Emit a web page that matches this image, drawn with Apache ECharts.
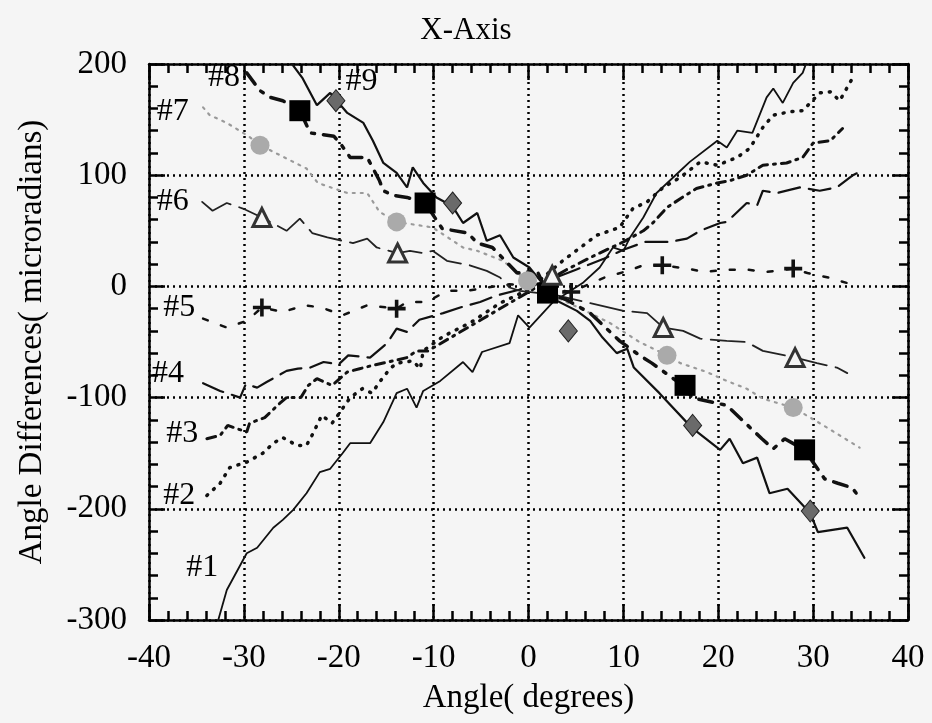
<!DOCTYPE html>
<html>
<head>
<meta charset="utf-8">
<title>X-Axis</title>
<script src="https://cdn.jsdelivr.net/npm/echarts@6/dist/echarts.min.js"></script>
<style>
  html, body { margin: 0; padding: 0; background: #f5f5f5; }
  #chart { width: 932px; height: 723px; }
</style>
</head>
<body>
<div id="chart"></div>
<script>
// traced curves, angle (deg) vs difference (microradians)
const line1X = [-32.7, -31.8, -29.7, -28.6, -26.9, -25.9, -24.8, -23.4, -22.0, -20.9, -19.6, -18.8, -16.7, -15.3, -13.9, -12.8, -11.8, -11.1, -9.3, -6.9, -5.9, -4.9, -2.0, -1.1, 0.1, 2.6, 5.7, 7.5, 8.9, 10.0, 10.7, 12.1, 13.5, 16.0, 17.0, 19.9, 20.9, 22.0, 23.6, 25.1, 25.8, 26.8, 27.9, 28.9, 29.5]
const line1Y = [-300, -273, -240, -235, -217, -210, -201, -186, -167, -164, -150, -141, -141, -122, -96, -92, -109, -94, -85, -68, -77, -59, -51, -26, -37, -14, 3, 17, 35, 32, 44, 62, 84, 104, 112, 131, 125, 140, 138, 170, 178, 165, 183, 192, 206]

const line2X = [-33.9, -32.5, -31.5, -29.7, -28.0, -26.9, -25.9, -24.4, -23.4, -22.7, -21.8, -20.7, -20.1, -18.8, -17.5, -16.5, -15.7, -14.6, -13.9, -12.2, -11.4, -11.1, -9.0, -6.0, -3.0, 0.0, 3.6, 7.2, 9.6, 11.0, 12.5, 14.2, 16.0, 18.1, 19.9, 22.0, 23.3, 24.7, 25.8, 27.5, 28.9, 30.7, 31.8, 32.8, 34.2]
const line2Y = [-188, -177, -163, -158, -150, -141, -136, -143, -143, -132, -116, -123, -116, -100, -92, -96, -86, -74, -69, -67, -74, -58, -45, -32, -15, -3, 23, 46, 53, 70, 76, 89, 98, 112, 109, 116, 124, 143, 154, 157, 158, 174, 175, 167, 188]

const line3X = [-33.9, -32.5, -31.7, -29.7, -29.4, -27.8, -26.2, -25.5, -24.0, -23.2, -22.3, -20.7, -19.1, -17.8, -16.4, -14.3, -12.8, -11.8, -10.6, -8.0, -5.0, -2.0, 1.0, 4.0, 7.0, 10.0, 12.1, 13.1, 14.6, 16.2, 17.7, 19.9, 21.2, 23.0, 24.7, 27.2, 28.9, 30.0, 31.8, 33.1]
const line3Y = [-137, -134, -125, -131, -123, -118, -105, -100, -100, -89, -83, -89, -77, -74, -71, -67, -64, -58, -58, -45, -30, -15, 0, 15, 28, 40, 50, 57, 71, 80, 88, 93, 95, 100, 109, 111, 116, 129, 131, 142]

const line4X = [-34.3, -32.5, -30.4, -29.8, -28.6, -27.6, -25.5, -24.3, -23.0, -21.6, -20.0, -19.0, -16.7, -14.9, -13.9, -12.8, -11.5, -9.0, -7.2, -5.1, -3.3, -1.0, 2.0, 5.0, 8.0, 10.0, 12.3, 14.9, 16.7, 18.1, 20.2, 20.9, 23.0, 24.1, 24.7, 26.2, 28.6, 30.7, 32.5, 34.2, 34.9]
const line4Y = [-87, -94, -100, -88, -91, -86, -76, -74, -73, -68, -70, -62, -64, -51, -38, -41, -30, -24, -19, -14, -8, -3, 5, 15, 25, 33, 40, 40, 43, 50, 57, 58, 75, 73, 86, 84, 89, 86, 89, 100, 103]

const line5X = [-34.3, -31.8, -29.7, -28.1, -25.9, -23.6, -21.8, -19.6, -17.0, -13.9, -12.8, -10.7, -8.6, -6.5, -4.4, -2.0, 0.5, 4.5, 8.0, 10.5, 12.1, 14.1, 16.7, 18.6, 20.9, 23.1, 25.1, 27.9, 29.4, 31.6, 33.6, 34.6]
const line5Y = [-29, -37, -31, -19, -23, -17, -19, -26, -17, -20, -14, -14, -4, -4, -1, 2, 0, -5, 8, 14, 19, 19, 16, 13, 15, 15, 13, 16, 12, 8, 3, 7]

const line6X = [-34.4, -33.3, -31.8, -30.1, -28.1, -25.5, -24.1, -22.8, -21.2, -19.6, -18.5, -17.0, -16.0, -13.8, -12.5, -11.1, -10.1, -8.6, -6.2, -4.4, -3.0, -2.0, -0.9, 3.0, 6.0, 10.0, 12.5, 14.2, 16.3, 18.1, 20.9, 23.0, 24.7, 28.1, 30.4, 32.5, 33.6]
const line6Y = [76, 68, 75, 70, 62, 50, 61, 48, 44, 41, 39, 43, 35, 30, 32, 30, 32, 23, 19, 14, 8, -1, -4, -8, -14, -22, -24, -37, -40, -47, -49, -50, -58, -64, -69, -73, -78]

const line7X = [-34.3, -33.6, -31.8, -29.5, -28.3, -25.5, -23.4, -22.2, -19.1, -17.0, -15.7, -13.9, -10.1, -6.9, -5.4, -2.7, -0.1, 3.0, 6.0, 8.6, 11.7, 14.6, 16.0, 18.8, 20.9, 23.0, 24.7, 27.9, 30.7, 32.8, 34.9]
const line7Y = [161, 154, 147, 135, 127, 115, 106, 93, 84, 84, 67, 58, 53, 35, 32, 23, 5, -10, -22, -33, -50, -62, -69, -77, -85, -92, -101, -109, -123, -134, -145]

const line8X = [-29.7, -28.3, -27.2, -25.9, -24.1, -23.0, -20.5, -19.7, -18.8, -17.0, -15.7, -15.3, -14.3, -12.8, -10.9, -9.1, -6.4, -5.4, -3.8, -1.2, 0.9, 2.0, 4.0, 6.5, 9.6, 11.7, 13.0, 15.6, 16.5, 17.2, 20.9, 22.5, 24.6, 25.8, 27.0, 29.1, 31.2, 32.6, 34.1, 34.9]
const line8Y = [192, 176, 170, 167, 158, 138, 135, 127, 116, 116, 95, 86, 82, 80, 75, 52, 48, 39, 35, 12, 14, -6, -12, -24, -49, -62, -69, -85, -89, -100, -107, -120, -137, -146, -137, -147, -173, -177, -181, -190]

const line9X = [-25.1, -23.8, -22.3, -20.9, -19.1, -17.4, -16.4, -15.3, -13.9, -12.8, -12.2, -11.1, -9.7, -8.0, -6.9, -5.4, -4.4, -3.0, -1.6, 0.1, 3.0, 5.1, 6.5, 7.8, 9.3, 10.4, 11.1, 13.8, 17.2, 20.2, 21.2, 22.6, 24.1, 25.4, 27.3, 29.7, 30.5, 33.6, 35.4]
const line9Y = [202, 187, 163, 174, 156, 147, 131, 111, 102, 89, 107, 93, 80, 72, 57, 66, 41, 46, 26, 17, -13, -22, -31, -46, -60, -56, -73, -96, -127, -147, -137, -159, -154, -186, -182, -204, -221, -217, -244]

// symbols drawn along some curves
const squareX = [-24.1, -10.9, 2.0, 16.5, 29.1]
const squareY = [158, 75, -6, -89, -147]
const diamondX = [-20.3, -8.0, 4.2, 17.3, 29.7]
const diamondY = [167, 75, -40, -125, -202]
const circleX = [-28.3, -13.9, -0.1, 14.6, 27.9]
const circleY = [127, 58, 5, -62, -109]
const triangleX = [-28.1, -13.8, 2.5, 14.2, 28.1]
const triangleY = [62, 30, 10, -37, -64]
const crossX = [-28.1, -13.9, 4.5, 14.1, 27.9]
const crossY = [-19, -20, -5, 19, 16]

// curve tags
const tagNames = ['#1', '#2', '#3', '#4', '#5', '#6', '#7', '#8', '#9']
const tagX = [-34.4, -36.8, -36.5, -38.0, -36.8, -37.5, -37.5, -32.1, -17.6]
const tagY = [-253, -188, -132, -78, -19, 76, 157, 188, 184]

const xTicks = [-40, -30, -20, -10, 0, 10, 20, 30, 40]
const yTicks = [-300, -200, -100, 0, 100, 200]

const FONT = '"Liberation Serif", "DejaVu Serif", serif'
const pairs = (xs, ys) => xs.map((v, i) => [v, ys[i]])

const lineStyles = [
  { x: line1X, y: line1Y, type: 'solid', width: 1.8, color: '#111' },
  { x: line2X, y: line2Y, type: [1, 8], width: 3.5, color: '#111' },
  { x: line3X, y: line3Y, type: [9, 6, 2, 6], width: 3, color: '#111' },
  { x: line4X, y: line4Y, type: [22, 9], width: 2.2, color: '#111' },
  { x: line5X, y: line5Y, type: [5, 14], width: 2.5, color: '#111' },
  { x: line6X, y: line6Y, type: [34, 9], width: 1.8, color: '#222' },
  { x: line7X, y: line7Y, type: [2, 6], width: 2.2, color: '#9a9a9a' },
  { x: line8X, y: line8Y, type: [14, 9, 3, 9], width: 3.5, color: '#111' },
  { x: line9X, y: line9Y, type: 'solid', width: 2.2, color: '#111' }
]

const series = lineStyles.map((s, i) => ({
  name: tagNames[i],
  type: 'line',
  data: pairs(s.x, s.y),
  showSymbol: false,
  symbol: 'none',
  clip: true,
  z: 3,
  lineStyle: { type: s.type, width: s.width, color: s.color, cap: 'round' }
}))

const markers = [
  { x: squareX, y: squareY, symbol: 'rect', size: 21, item: { color: '#000' } },
  { x: diamondX, y: diamondY, symbol: 'diamond', size: [18, 22], item: { color: '#6a6a6a', borderColor: '#222', borderWidth: 1 } },
  { x: circleX, y: circleY, symbol: 'circle', size: 19, item: { color: '#aaa' } },
  { x: triangleX, y: triangleY, symbol: 'triangle', size: 18, item: { color: '#f5f5f5', borderColor: '#333', borderWidth: 3 } },
  { x: crossX, y: crossY, symbol: 'path://M4,0H6V4H10V6H6V10H4V6H0V4H4Z', size: 18, item: { color: '#111' } }
]
markers.forEach(m => {
  series.push({
    type: 'scatter',
    data: pairs(m.x, m.y),
    symbol: m.symbol,
    symbolSize: m.size,
    itemStyle: Object.assign({ opacity: 1 }, m.item),
    z: 4,
    silent: true
  })
})

series.push({
  type: 'scatter',
  data: tagX.map((v, i) => ({ value: [v, tagY[i]], name: tagNames[i] })),
  symbolSize: 0,
  itemStyle: { opacity: 1 },
  z: 5,
  clip: false,
  silent: true,
  label: {
    show: true,
    position: 'inside',
    formatter: p => p.name,
    color: '#000',
    fontFamily: FONT,
    fontSize: 32
  }
})

const chart = echarts.init(document.getElementById('chart'))

const tickAxis = {
  axisLine: { show: true, onZero: false, lineStyle: { color: '#000', width: 2.5 } },
  axisTick: { show: true, inside: true, length: 16, lineStyle: { color: '#000', width: 2.5 } },
  minorTick: { show: true, splitNumber: 5, length: 9, lineStyle: { color: '#000', width: 2.5 } }
}

chart.setOption({
  backgroundColor: '#f5f5f5',
  animation: false,
  title: {
    text: 'X-Axis',
    left: 'center',
    top: 10,
    textStyle: { fontFamily: FONT, fontSize: 31, fontWeight: 'normal', color: '#000' }
  },
  grid: { left: 149, right: 24, top: 64, bottom: 103 },
  xAxis: [{
    type: 'value',
    min: xTicks[0],
    max: xTicks[xTicks.length - 1],
    interval: 10,
    name: 'Angle( degrees)',
    nameLocation: 'middle',
    nameGap: 62,
    nameTextStyle: { fontFamily: FONT, fontSize: 33, color: '#000' },
    axisLabel: { fontFamily: FONT, fontSize: 33, color: '#000', margin: 22 },
    splitLine: { show: true, lineStyle: { type: [2, 4], color: '#000', width: 2.5 } },
    ...tickAxis
  }, {
    type: 'value',
    position: 'top',
    min: xTicks[0],
    max: xTicks[xTicks.length - 1],
    interval: 10,
    axisLabel: { show: false },
    splitLine: { show: false },
    ...tickAxis
  }],
  yAxis: [{
    type: 'value',
    min: yTicks[0],
    max: yTicks[yTicks.length - 1],
    interval: 100,
    name: 'Angle Differences( microradians)',
    nameLocation: 'middle',
    nameRotate: 90,
    nameGap: 100,
    nameTextStyle: { fontFamily: FONT, fontSize: 33, color: '#000' },
    axisLabel: { fontFamily: FONT, fontSize: 33, color: '#000', margin: 22 },
    splitLine: { show: true, lineStyle: { type: [2, 4], color: '#000', width: 2.5 } },
    ...tickAxis
  }, {
    type: 'value',
    position: 'right',
    min: yTicks[0],
    max: yTicks[yTicks.length - 1],
    interval: 100,
    axisLabel: { show: false },
    splitLine: { show: false },
    ...tickAxis
  }],
  series: series
})
</script>
</body>
</html>
